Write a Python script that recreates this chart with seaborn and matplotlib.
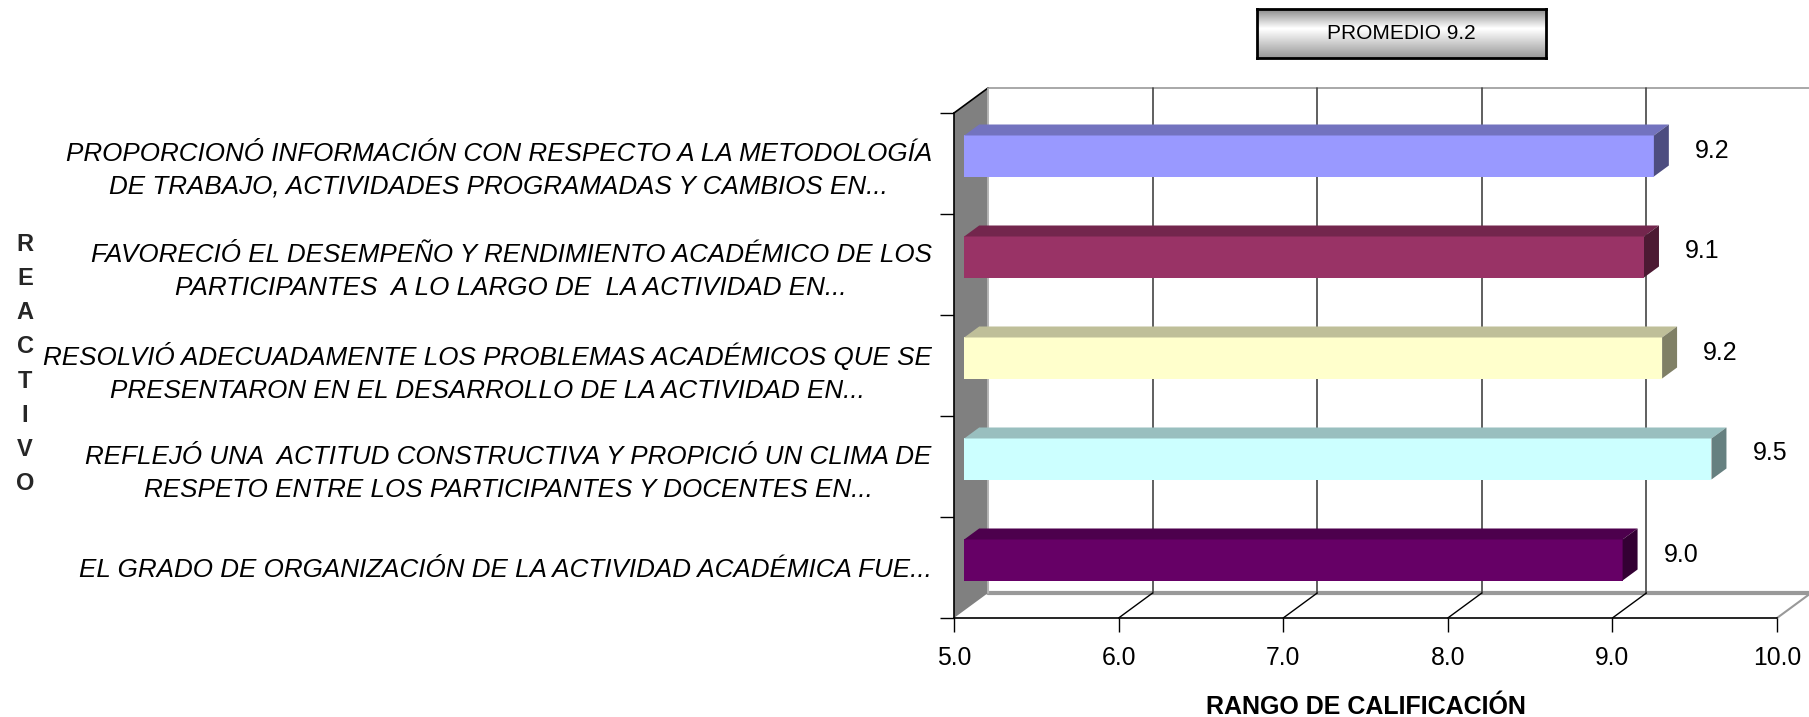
import numpy as np
import pandas as pd
import seaborn as sns
import matplotlib.pyplot as plt
from matplotlib.colors import to_rgb
from matplotlib.patches import Polygon

# datos
categorias = [
    "PROPORCIONÓ INFORMACIÓN CON RESPECTO A LA METODOLOGÍA\nDE TRABAJO, ACTIVIDADES PROGRAMADAS Y CAMBIOS EN...",
    "FAVORECIÓ EL DESEMPEÑO Y RENDIMIENTO ACADÉMICO DE LOS\nPARTICIPANTES  A LO LARGO DE  LA ACTIVIDAD EN...",
    "RESOLVIÓ ADECUADAMENTE LOS PROBLEMAS ACADÉMICOS QUE SE\nPRESENTARON EN EL DESARROLLO DE LA ACTIVIDAD EN...",
    "REFLEJÓ UNA  ACTITUD CONSTRUCTIVA Y PROPICIÓ UN CLIMA DE\nRESPETO ENTRE LOS PARTICIPANTES Y DOCENTES EN...",
    "EL GRADO DE ORGANIZACIÓN DE LA ACTIVIDAD ACADÉMICA FUE...",
]
calificaciones = [9.19, 9.13, 9.24, 9.54, 9.0]
colores = ["#9999FF", "#993366", "#FFFFCC", "#CCFFFF", "#660066"]
marcas_x = [5.0, 6.0, 7.0, 8.0, 9.0, 10.0]
promedio = 9.2
titulo_eje_x = "RANGO DE CALIFICACIÓN"
titulo_eje_y = "REACTIVO"

sns.set_theme(style="white")
plt.rcParams["font.family"] = ["Liberation Sans", "DejaVu Sans"]

W, H = 1809, 717
fig = plt.figure(figsize=(W / 100, H / 100), dpi=100)
ax = fig.add_axes([954 / W, 99 / H, 823 / W, 505 / H])

df = pd.DataFrame({"reactivo": categorias, "calificacion": calificaciones})
sns.barplot(data=df, x="calificacion", y="reactivo", hue="reactivo",
            palette=colores, legend=False, width=0.406, saturation=1,
            orient="h", linewidth=0, ax=ax)
barras = list(ax.patches)

n = len(categorias)
ax.set_xlim(marcas_x[0], marcas_x[-1])
ax.set_ylim(n - 0.5, -0.5)

# profundidad del efecto 3D en unidades de datos
DX = 34 / 164.5
DY = 25 / 101
f0, prof = 0.3, 0.44
x0, x1 = marcas_x[0], marcas_x[-1]
yb, yt = n - 0.5, -0.5

# pared trasera
ax.add_patch(Polygon([(x0 + DX, yt - DY), (x1 + DX, yt - DY), (x1 + DX, yb - DY), (x0 + DX, yb - DY)],
                     closed=True, fc="white", ec="#999999", lw=1.2, zorder=0.5, clip_on=False))
# piso
ax.add_patch(Polygon([(x0, yb), (x1, yb), (x1 + DX, yb - DY), (x0 + DX, yb - DY)],
                     closed=True, fc="white", ec="none", zorder=0.5, clip_on=False))
ax.plot([x0 + DX, x1 + DX], [yb - DY, yb - DY], color="#999999", lw=3, zorder=0.55, clip_on=False)
ax.plot([x1, x1 + DX], [yb, yb - DY], color="#999999", lw=1.5, zorder=0.55, clip_on=False)
for m in marcas_x[1:-1]:
    ax.plot([m + DX, m + DX], [yt - DY, yb - DY], color="#444444", lw=1.2, zorder=0.6, clip_on=False)
    ax.plot([m, m + DX], [yb, yb - DY], color="black", lw=1, zorder=0.6, clip_on=False)
# pared izquierda
ax.add_patch(Polygon([(x0, yb), (x0, yt), (x0 + DX, yt - DY), (x0 + DX, yb - DY)],
                     closed=True, fc="#808080", ec="none", zorder=0.7, clip_on=False))
ax.plot([x0, x0 + DX], [yt, yt - DY], color="black", lw=1.2, zorder=0.75, clip_on=False)
ax.plot([x0 + DX, x0 + DX], [yt - DY, yb - DY], color="#BBBBBB", lw=1.2, zorder=0.75, clip_on=False)

# barras 3D a partir de los rectangulos de seaborn
for p in barras:
    if p.get_width() <= 0:
        continue
    c = p.get_y() + p.get_height() / 2
    i = int(round(c))
    v = p.get_width()
    h = p.get_height()
    xl = x0 + f0 * DX
    xr = v + f0 * DX
    ytop = c - h / 2 - f0 * DY
    ybot = c + h / 2 - f0 * DY
    p.set_x(xl)
    p.set_width(xr - xl)
    p.set_y(ytop)
    p.set_zorder(3)
    p.set_clip_on(False)
    base = np.array(to_rgb(p.get_facecolor()))
    ax.add_patch(Polygon([(xl, ytop), (xr, ytop), (xr + prof * DX, ytop - prof * DY), (xl + prof * DX, ytop - prof * DY)],
                         closed=True, fc=base * 0.75, ec="none", zorder=3, clip_on=False))
    ax.add_patch(Polygon([(xr, ytop), (xr, ybot), (xr + prof * DX, ybot - prof * DY), (xr + prof * DX, ytop - prof * DY)],
                         closed=True, fc=base * 0.5, ec="none", zorder=3, clip_on=False))
    ax.text(xr + prof * DX + 26 / 164.5, c - 13 / 101, f"{calificaciones[i]:.1f}",
            ha="left", va="center", fontsize=18, color="black", zorder=4)

# ejes
for s in ["top", "right"]:
    ax.spines[s].set_visible(False)
ax.spines["left"].set_color("black")
ax.spines["bottom"].set_color("black")
ax.spines["left"].set_linewidth(1.2)
ax.spines["bottom"].set_linewidth(1.2)
ax.spines["left"].set_zorder(1)
ax.spines["bottom"].set_zorder(1)
ax.set_facecolor("none")

ax.set_xticks(marcas_x)
ax.set_xticklabels([f"{m:.1f}" for m in marcas_x])
ax.tick_params(axis="x", bottom=True, length=10, width=1, color="black", direction="out",
               pad=10, labelsize=17.8, labelcolor="black")
ax.set_yticks(np.arange(-0.5, n, 1.0), minor=True)
ax.tick_params(axis="y", which="major", left=True, length=0, pad=16)
ax.tick_params(axis="y", which="minor", left=True, length=10, width=1, color="black", direction="out")
for t in ax.get_yticklabels():
    t.set_style("italic")
    t.set_fontsize(18.7)
    t.set_multialignment("center")
    t.set_linespacing(1.45)
    t.set_color("black")

ax.set_ylabel("")
ax.set_xlabel(titulo_eje_x, fontsize=18, fontweight="bold", labelpad=18, color="black")

fig.text(25 / W, 1 - 364 / H, "\n".join(titulo_eje_y), ha="center", va="center",
         fontsize=17, fontweight="bold", linespacing=1.62)

# recuadro del promedio con degradado
bx = fig.add_axes([1257 / W, 1 - 58 / H, 289 / W, 49 / H])
grad = np.concatenate([np.linspace(0.55, 1.0, 20), np.linspace(1.0, 0.6, 30)])[:, None]
bx.imshow(grad, cmap="gray", vmin=0, vmax=1, aspect="auto", extent=[0, 1, 0, 1])
bx.set_xticks([])
bx.set_yticks([])
for s in bx.spines.values():
    s.set_color("black")
    s.set_linewidth(2)
bx.text(0.5, 0.5, f"PROMEDIO {promedio:.1f}", ha="center", va="center",
        fontsize=15, color="black", transform=bx.transAxes)

fig.savefig("out.png", dpi=100)
